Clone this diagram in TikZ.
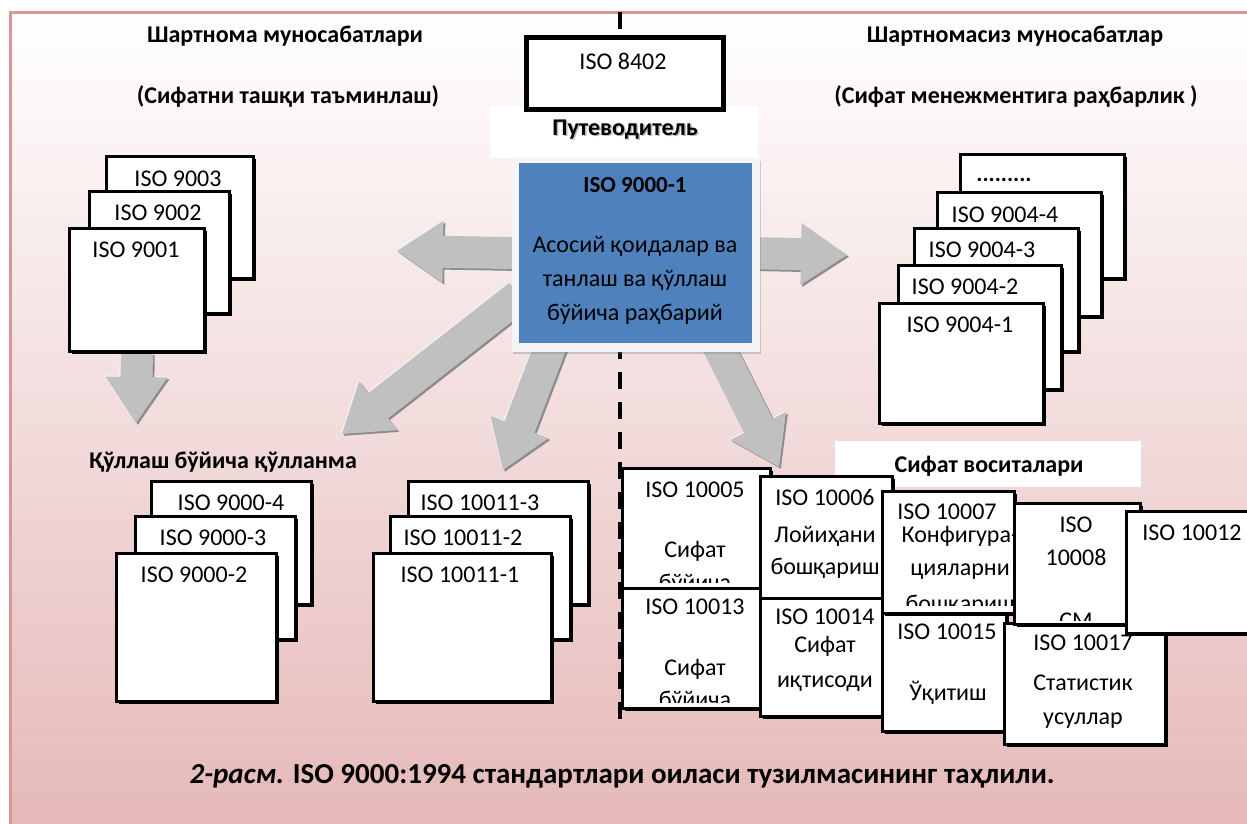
\documentclass[tikz,border=0pt]{standalone}
\usepackage{fontspec}
\setmainfont{Carlito}
\usetikzlibrary{calc,shadows}

\definecolor{framepink}{RGB}{217,150,148}
\definecolor{floorpink}{RGB}{229,184,183}
\definecolor{guideblue}{RGB}{79,129,189}
\definecolor{arrowgray}{RGB}{192,192,192}
\definecolor{arrowdark}{RGB}{140,140,140}
\definecolor{arrowlight}{RGB}{240,240,240}

\pgfdeclarelayer{backdrop}
\pgfdeclarelayer{shafts}
\pgfsetlayers{backdrop,shafts,main}

\tikzset{
  docbox/.style={draw=black, line width=2.8pt, fill=white, inner sep=0pt,
    drop shadow={shadow xshift=2.5pt, shadow yshift=-2.5pt, fill=black, opacity=1}},
  boxtext/.style={font=\fontsize{24}{28}\selectfont, anchor=mid, inner sep=0pt, yshift=-5pt},
  headtext/.style={font=\bfseries\fontsize{24}{28}\selectfont, anchor=mid, inner sep=0pt, yshift=-5pt},
  axisline/.style={line width=4pt, dash pattern=on 17pt off 13pt},
}

% document sheet: name, north west corner, width, height
\newcommand{\isobox}[4]{%
  \node[docbox, minimum width=#3pt, minimum height=#4pt, anchor=north west] (#1) at (#2) {};}

% text lines of a sheet, cut off above its bottom edge
\newcommand{\boxlines}[3]{%
  \begin{scope}
    \clip ([xshift=-25pt]#1.north west) rectangle ([xshift=25pt,yshift=#2pt]#1.south east);
    \foreach \txt/\xx/\yy [count=\i] in {#3}
      \node[boxtext] (#1-\i) at (\xx,\yy) {\txt};
  \end{scope}}

% broad grey arrow from #2 to #3
\newcommand{\blockarrow}[3][]{%
  \fill[#1] let \p1=(#2), \p2=(#3), \n1={atan2(\y2-\y1,\x2-\x1)}, \n2={veclen(\x2-\x1,\y2-\y1)} in
    [shift={(\p1)}, rotate=\n1]
    (0pt,16pt) -- (\n2-46pt,16pt) -- (\n2-46pt,31pt) -- (\n2,0pt)
    -- (\n2-46pt,-31pt) -- (\n2-46pt,-16pt) -- (0pt,-16pt) -- cycle;}

\begin{document}
\begin{tikzpicture}[x=1pt, y=-1pt]
  \useasboundingbox (0,0) rectangle (1247,823);

  %%%%% BACKGROUND %%%%%
  \begin{pgfonlayer}{backdrop}
    \draw[framepink, line width=3pt, top color=white, bottom color=floorpink] (10,12) rectangle (1275,840);
    \coordinate (axis-top) at (620,12);
    \coordinate (axis-bottom) at (620,722);
    \draw[axisline] (axis-top) -- (axis-bottom);
  \end{pgfonlayer}

  %%%%% HEADINGS %%%%%
  \node[headtext] (contract) at (285,35) {Шартнома муносабатлари};
  \node[headtext] (contract-sub) at (288,96) {(Сифатни ташқи таъминлаш)};
  \node[headtext] (noncontract) at (1015,35) {Шартномасиз муносабатлар};
  \node[headtext] (noncontract-sub) at (1016,96) {(Сифат менежментига раҳбарлик )};

  %%%%% GUIDE %%%%%
  \node[fill=white, minimum width=268pt, minimum height=52pt, anchor=north west] (guidehead) at (490,106) {};
  \node[headtext, text=gray!55] (guidelabel-shadow) at (626.5,129.5) {Путеводитель};
  \node[headtext] (guidelabel) at (625,128) {Путеводитель};

  \node[draw=black, line width=5pt, fill=white, minimum width=197pt, minimum height=72pt, anchor=north west,
    drop shadow={shadow xshift=2.5pt, shadow yshift=-2.5pt, fill=black, opacity=1}] (iso8402) at (524,35) {};
  \node[boxtext] (iso8402-1) at (623,62) {ISO 8402};

  \node[fill=gray!8, minimum width=248pt, minimum height=193pt, anchor=north west,
    drop shadow={shadow xshift=1pt, shadow yshift=-2pt, opacity=.35}] (guideframe) at (512,159) {};
  \node[fill=guideblue, minimum width=233pt, minimum height=180pt, anchor=north west] (guide) at (519,163) {};
  \node[boxtext, font=\bfseries\fontsize{23}{28}\selectfont] (guide-title) at (635,185) {ISO 9000-1};
  \foreach \txt/\yy [count=\i] in {Асосий қоидалар ва/245, танлаш ва қўллаш/279, бўйича раҳбарий/313}
    \node[boxtext] (guide-\i) at (635,\yy) {\txt};

  %%%%% CONTRACT STACK %%%%%
  \isobox{iso9003}{105,155}{147}{122}
  \boxlines{iso9003}{0}{ISO 9003/178/179}
  \isobox{iso9002}{88,190}{140}{122}
  \boxlines{iso9002}{0}{ISO 9002/158/213}
  \isobox{iso9001}{68,227}{135}{123}
  \boxlines{iso9001}{0}{ISO 9001/136/250}

  %%%%% NON-CONTRACT STACK %%%%%
  \isobox{isomore}{959,153}{164}{124}
  \node[boxtext, font=\bfseries\fontsize{23}{28}\selectfont] (isomore-1) at (1004,174) {.........};
  \isobox{iso9004-4}{936,191}{164}{124}
  \boxlines{iso9004-4}{0}{ISO 9004-4/1005/215}
  \isobox{iso9004-3}{913,227}{164}{123}
  \boxlines{iso9004-3}{0}{ISO 9004-3/982/250}
  \isobox{iso9004-2}{897,264}{163}{124}
  \boxlines{iso9004-2}{0}{ISO 9004-2/965/287}
  \isobox{iso9004-1}{878,302}{164}{120}
  \boxlines{iso9004-1}{0}{ISO 9004-1/960/325}

  %%%%% APPLICATION GUIDES %%%%%
  \node[headtext] (guide-use) at (223,461) {Қўллаш бўйича қўлланма};
  \isobox{iso9000-4}{150,480}{160}{123}
  \boxlines{iso9000-4}{0}{ISO 9000-4/231/503}
  \isobox{iso9000-3}{134,515}{160}{123}
  \boxlines{iso9000-3}{0}{ISO 9000-3/213/538}
  \isobox{iso9000-2}{115,552}{160}{148}
  \boxlines{iso9000-2}{0}{ISO 9000-2/194/575}

  \isobox{iso10011-3}{407,480}{180}{123}
  \boxlines{iso10011-3}{0}{ISO 10011-3/480/503}
  \isobox{iso10011-2}{389,515}{180}{123}
  \boxlines{iso10011-2}{0}{ISO 10011-2/463/538}
  \isobox{iso10011-1}{372,552}{178}{148}
  \boxlines{iso10011-1}{0}{ISO 10011-1/460/575}

  %%%%% QUALITY TOOLS %%%%%
  \node[fill=white, minimum width=306pt, minimum height=46pt, anchor=north west] (toolshead) at (835,441) {};
  \node[headtext] (toolslabel) at (989,465) {Сифат воситалари};

  \isobox{iso10005}{621,467}{148}{120}
  \boxlines{iso10005}{7}{ISO 10005/695/490, Сифат/695/550, бўйича/695/583}
  \isobox{iso10013}{621,587}{148}{120}
  \boxlines{iso10013}{7}{ISO 10013/695/607, Сифат/695/668, бўйича/695/700}
  \isobox{iso10006}{759,475}{132}{122}
  \boxlines{iso10006}{0}{ISO 10006/825/498, Лойиҳани/825/535, бошқариш/825/567}
  \isobox{iso10014}{759,597}{132}{118}
  \boxlines{iso10014}{0}{ISO 10014/825/617, Сифат/825/645, иқтисоди/825/680}
  \isobox{iso10015}{881,612}{124}{118}
  \boxlines{iso10015}{0}{ISO 10015/947/632, Ўқитиш/948/693}
  \isobox{iso10007}{881,490}{132}{122}
  \boxlines{iso10007}{9}{ISO 10007/947/512, Конфигура-/960/535, цияларни/960/568, бошқариш/960/604}
  \isobox{iso10017}{1003,622}{161}{121}
  \boxlines{iso10017}{14}{ISO 10017/1083/643, Статистик/1083/683, усуллар/1083/717}
  \isobox{iso10008}{1013,502}{126}{121}
  \boxlines{iso10008}{5}{ISO/1076/525, 10008/1076/558, СМ/1076/621}
  \isobox{iso10012}{1125,510}{140}{122}
  \boxlines{iso10012}{0}{ISO 10012/1192/533}

  %%%%% ARROWS %%%%%
  \coordinate (tip-left) at (397,251);
  \coordinate (tip-right) at (847,255);
  \coordinate (tip-down) at (342,434);
  \coordinate (tip-mid) at (503,470);
  \coordinate (tip-tools) at (779,467);
  \coordinate (tip-9001) at (136,423);
  \begin{pgfonlayer}{shafts}
    \foreach \from/\to in {guide.west/tip-left, guide.east/tip-right, guide.200/tip-down,
        guide.227/tip-mid, guide.312/tip-tools, iso9001.south/tip-9001} {
      \blockarrow[arrowlight, transform canvas={shift={(-1.2pt,1.2pt)}}]{\from}{\to}
      \blockarrow[arrowdark, transform canvas={shift={(1.8pt,-1.8pt)}}]{\from}{\to}
      \blockarrow[arrowgray]{\from}{\to}
    }
  \end{pgfonlayer}

  %%%%% CAPTION %%%%%
  \node[boxtext, font=\bfseries\fontsize{29}{34}\selectfont] (caption) at (622,776)
    {\textit{2-расм.} ISO 9000:1994 стандартлари оиласи тузилмасининг таҳлили.};
\end{tikzpicture}
\end{document}
